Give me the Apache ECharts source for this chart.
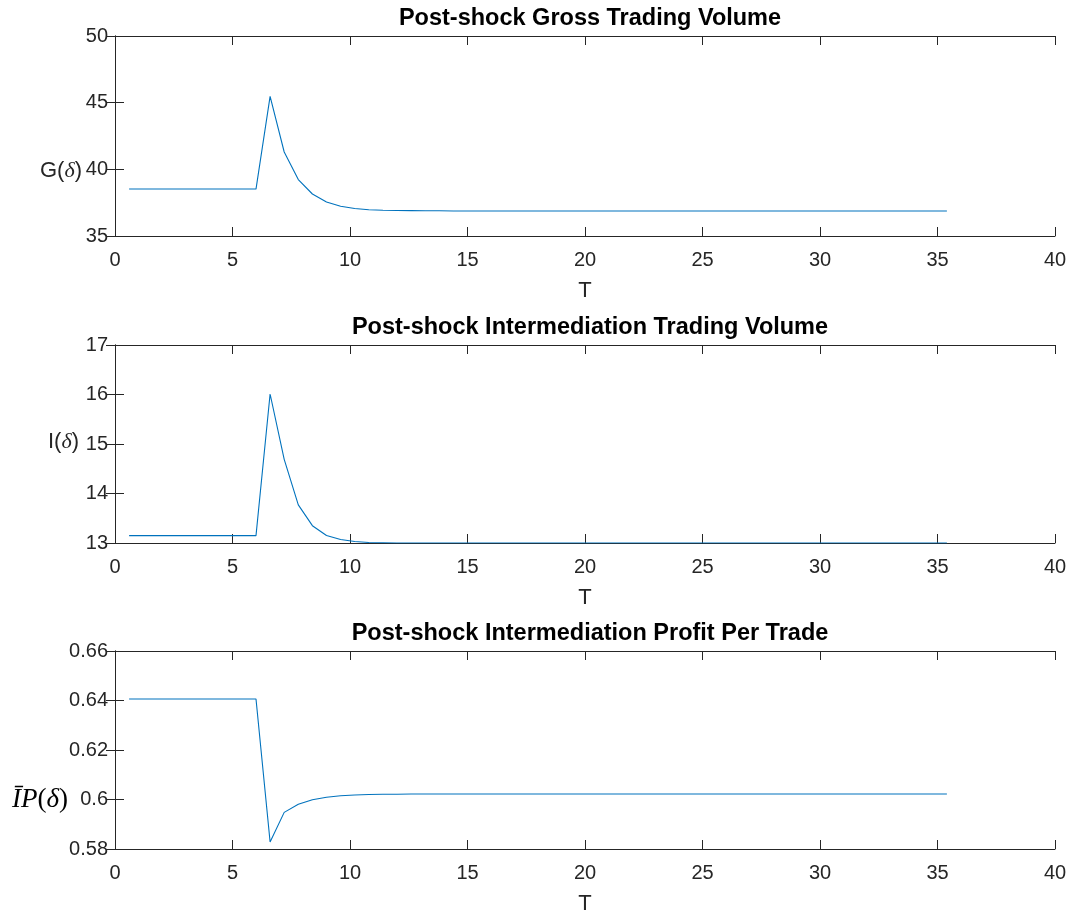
<!DOCTYPE html>
<html>
<head>
<meta charset="utf-8">
<script src="https://cdn.jsdelivr.net/npm/echarts@6/dist/echarts.min.js"></script>
<style>
  html, body { margin: 0; padding: 0; background: #fff; }
  #chart { width: 1070px; height: 916px; }
</style>
</head>
<body>
<div id="chart"></div>
<script>
// Time grid (T) shared by the three panels
const T = [0.6, 1.2, 1.8, 2.4, 3.0, 3.6, 4.2, 4.8, 5.4, 6.0,
  6.6, 7.2, 7.8, 8.4, 9.0, 9.6, 10.2, 10.8, 11.4, 12.0,
  12.6, 13.2, 13.8, 14.4, 15.0, 15.6, 16.2, 16.8, 17.4, 18.0,
  18.6, 19.2, 19.8, 20.4, 21.0, 21.6, 22.2, 22.8, 23.4, 24.0,
  24.6, 25.2, 25.8, 26.4, 27.0, 27.6, 28.2, 28.8, 29.4, 30.0,
  30.6, 31.2, 31.8, 32.4, 33.0, 33.6, 34.2, 34.8, 35.4];

// Gross trading volume G(delta)
const grossVolume = [38.52, 38.52, 38.52, 38.52, 38.52, 38.52, 38.52, 38.52, 38.52, 38.52,
  45.47, 41.30, 39.23, 38.15, 37.55, 37.23, 37.06, 36.97, 36.93, 36.91,
  36.90, 36.89, 36.89, 36.88, 36.88, 36.88, 36.88, 36.88, 36.88, 36.88,
  36.88, 36.88, 36.88, 36.88, 36.88, 36.88, 36.88, 36.88, 36.88, 36.88,
  36.88, 36.88, 36.88, 36.88, 36.88, 36.88, 36.88, 36.88, 36.88, 36.88,
  36.88, 36.88, 36.88, 36.88, 36.88, 36.88, 36.88, 36.88, 36.88];

// Intermediation trading volume I(delta)
const interVolume = [13.15, 13.15, 13.15, 13.15, 13.15, 13.15, 13.15, 13.15, 13.15, 13.15,
  16.01, 14.69, 13.77, 13.35, 13.15, 13.07, 13.03, 13.01, 13.005, 13.00,
  13.00, 13.00, 13.00, 13.00, 13.00, 13.00, 13.00, 13.00, 13.00, 13.00,
  13.00, 13.00, 13.00, 13.00, 13.00, 13.00, 13.00, 13.00, 13.00, 13.00,
  13.00, 13.00, 13.00, 13.00, 13.00, 13.00, 13.00, 13.00, 13.00, 13.00,
  13.00, 13.00, 13.00, 13.00, 13.00, 13.00, 13.00, 13.00, 13.00];

// Intermediation profit per trade
const profitPerTrade = [0.6406, 0.6406, 0.6406, 0.6406, 0.6406, 0.6406, 0.6406, 0.6406, 0.6406, 0.6406,
  0.5828, 0.5948, 0.5981, 0.5999, 0.6009, 0.6015, 0.6018, 0.6020, 0.6021, 0.6021,
  0.6022, 0.6022, 0.6022, 0.6022, 0.6022, 0.6022, 0.6022, 0.6022, 0.6022, 0.6022,
  0.6022, 0.6022, 0.6022, 0.6022, 0.6022, 0.6022, 0.6022, 0.6022, 0.6022, 0.6022,
  0.6022, 0.6022, 0.6022, 0.6022, 0.6022, 0.6022, 0.6022, 0.6022, 0.6022, 0.6022,
  0.6022, 0.6022, 0.6022, 0.6022, 0.6022, 0.6022, 0.6022, 0.6022, 0.6022];

const titles = ['Post-shock Gross Trading Volume',
  'Post-shock Intermediation Trading Volume',
  'Post-shock Intermediation Profit Per Trade'];
const yRanges = [[35, 50, 5], [13, 17, 1], [0.58, 0.66, 0.02]];
const xRange = [0, 40, 5];
const seriesValues = [grossVolume, interVolume, profitPerTrade];

const FONT = '"Liberation Sans", Arial, Helvetica, sans-serif';
const SERIF = '"Liberation Serif", "DejaVu Serif", serif';
const AXIS_COLOR = '#262626';
const LINE_COLOR = '#0072BD';

const panels = [
  { top: 36, height: 200 },
  { top: 345, height: 198 },
  { top: 651, height: 199 }
];

const grid = [], xAxis = [], yAxis = [], series = [], title = [];

panels.forEach((p, i) => {
  grid.push({ left: 115, width: 940, top: p.top, height: p.height, containLabel: false });
  title.push({
    text: titles[i], left: 585, top: p.top - 34, textAlign: 'center',
    textStyle: { fontFamily: FONT, fontWeight: 'bold', fontSize: 23.5, color: '#000' }
  });
  const axLine = { show: true, lineStyle: { color: AXIS_COLOR, width: 1 } };
  const tick = { show: true, inside: true, length: 9, lineStyle: { color: AXIS_COLOR, width: 1 } };
  // bottom x axis with labels
  xAxis.push({
    type: 'value', gridIndex: i, position: 'bottom',
    min: xRange[0], max: xRange[1], interval: xRange[2],
    axisLine: axLine, axisTick: tick, splitLine: { show: false },
    axisLabel: { fontFamily: FONT, fontSize: 20, color: AXIS_COLOR, margin: 14 },
    name: 'T', nameLocation: 'middle', nameGap: 44,
    nameTextStyle: { fontFamily: FONT, fontSize: 22, color: AXIS_COLOR }
  });
  // top x axis (box edge)
  xAxis.push({
    type: 'value', gridIndex: i, position: 'top',
    min: xRange[0], max: xRange[1], interval: xRange[2],
    axisLine: axLine, axisTick: tick, splitLine: { show: false },
    axisLabel: { show: false }
  });
  const yr = yRanges[i];
  yAxis.push({
    type: 'value', gridIndex: i, position: 'left',
    min: yr[0], max: yr[1], interval: yr[2],
    axisLine: axLine, axisTick: tick, splitLine: { show: false },
    axisLabel: { fontFamily: FONT, fontSize: 20, color: AXIS_COLOR, margin: 7 }
  });
  yAxis.push({
    type: 'value', gridIndex: i, position: 'right',
    min: yr[0], max: yr[1], interval: yr[2],
    axisLine: axLine, axisTick: tick, splitLine: { show: false },
    axisLabel: { show: false }
  });
  series.push({
    type: 'line', xAxisIndex: i * 2, yAxisIndex: i * 2,
    data: T.map((t, k) => [t, seriesValues[i][k]]),
    showSymbol: false, symbol: 'none',
    lineStyle: { color: LINE_COLOR, width: 1.1 },
    animation: false
  });
});

// Y-axis labels, written horizontally beside the tick labels
const yLabelStyle = {
  s: { fontFamily: FONT, fontSize: 22, fill: AXIS_COLOR },
  d: { fontFamily: SERIF, fontStyle: 'italic', fontSize: 22, fill: AXIS_COLOR },
  m: { fontFamily: SERIF, fontStyle: 'italic', fontSize: 27, fill: '#000' },
  u: { fontFamily: SERIF, fontSize: 27, fill: '#000' }
};
const graphic = [
  { type: 'text', x: 82, y: 171,
    style: { text: '{s|G(}{d|δ}{s|)}', rich: yLabelStyle, align: 'right', verticalAlign: 'middle' } },
  { type: 'text', x: 79, y: 442,
    style: { text: '{s|I(}{d|δ}{s|)}', rich: yLabelStyle, align: 'right', verticalAlign: 'middle' } },
  { type: 'text', x: 68, y: 800,
    style: { text: '{m|ĪP}{u|(}{m|δ}{u|)}', rich: yLabelStyle, align: 'right', verticalAlign: 'middle' } }
];

const chart = echarts.init(document.getElementById('chart'), null, { renderer: 'canvas' });
chart.setOption({
  backgroundColor: '#fff',
  animation: false,
  title, grid, xAxis, yAxis, series, graphic
});
</script>
</body>
</html>
